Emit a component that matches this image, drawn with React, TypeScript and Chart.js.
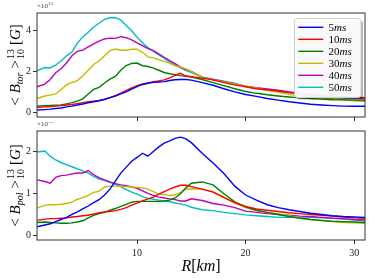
import { useEffect, useRef } from 'react';
import { Chart, registerables } from 'chart.js';
Chart.register(...registerables);

const R = [0.8, 1.5, 2, 2.5, 3, 3.5, 4, 4.5, 5, 5.5, 6, 6.5, 7, 7.5, 8, 8.5, 9, 9.5, 10, 10.5, 11, 11.5, 12, 12.5, 13, 13.5, 14, 14.5, 15, 16, 17, 18, 19, 20, 21, 22, 23, 24, 25, 26, 27, 28, 29, 30, 31];

const seriesLabels = ['5', '10', '20', '30', '40', '50'];
const seriesColors = ['#0000ff', '#ff0000', '#008000', '#bfbf00', '#bf00bf', '#00bfbf'];

// <B_tor> (x1e15 G)
const tor5 = [0.12, 0.14, 0.16, 0.19, 0.22, 0.27, 0.31, 0.36, 0.41, 0.47, 0.52, 0.57, 0.64, 0.72, 0.8, 0.9, 1.0, 1.13, 1.25, 1.36, 1.42, 1.46, 1.48, 1.5, 1.55, 1.59, 1.6, 1.6, 1.57, 1.45, 1.32, 1.15, 1.0, 0.87, 0.78, 0.68, 0.6, 0.52, 0.46, 0.4, 0.36, 0.33, 0.31, 0.3, 0.3];
const tor10 = [0.25, 0.27, 0.29, 0.31, 0.33, 0.36, 0.39, 0.43, 0.47, 0.52, 0.55, 0.58, 0.63, 0.72, 0.82, 0.94, 1.07, 1.19, 1.3, 1.38, 1.43, 1.5, 1.53, 1.58, 1.68, 1.8, 1.9, 1.77, 1.74, 1.67, 1.58, 1.45, 1.34, 1.25, 1.15, 1.1, 1.04, 0.97, 0.92, 0.87, 0.83, 0.8, 0.77, 0.74, 0.72];
const tor20 = [0.3, 0.33, 0.34, 0.35, 0.36, 0.42, 0.48, 0.55, 0.66, 0.9, 1.12, 1.22, 1.43, 1.62, 1.75, 2.05, 2.28, 2.38, 2.4, 2.27, 2.23, 2.15, 2.05, 1.94, 1.88, 1.84, 1.79, 1.76, 1.72, 1.6, 1.45, 1.3, 1.15, 1.02, 0.93, 0.86, 0.8, 0.75, 0.71, 0.68, 0.65, 0.62, 0.61, 0.6, 0.59];
const tor30 = [0.68, 0.8, 0.84, 0.9, 1.1, 1.35, 1.45, 1.55, 1.77, 2.05, 2.33, 2.5, 2.75, 3.0, 3.08, 3.02, 3.02, 3.07, 3.07, 2.92, 2.7, 2.65, 2.57, 2.48, 2.38, 2.27, 2.2, 2.12, 1.98, 1.7, 1.58, 1.48, 1.38, 1.28, 1.18, 1.08, 0.98, 0.88, 0.8, 0.75, 0.71, 0.67, 0.62, 0.57, 0.54];
const tor40 = [1.25, 1.38, 1.6, 1.93, 2.12, 2.4, 2.75, 2.97, 3.03, 3.18, 3.33, 3.46, 3.57, 3.61, 3.6, 3.68, 3.63, 3.53, 3.38, 3.25, 3.1, 3.0, 2.85, 2.68, 2.52, 2.37, 2.2, 2.08, 2.0, 1.7, 1.6, 1.5, 1.38, 1.28, 1.2, 1.14, 1.08, 1.0, 0.93, 0.86, 0.8, 0.75, 0.72, 0.7, 0.68];
const tor50 = [2.03, 2.18, 2.16, 2.3, 2.5, 2.75, 2.93, 3.37, 3.67, 3.9, 4.15, 4.33, 4.52, 4.6, 4.6, 4.48, 4.22, 3.97, 3.65, 3.38, 3.15, 2.98, 2.8, 2.62, 2.45, 2.3, 2.17, 2.05, 1.93, 1.73, 1.61, 1.52, 1.42, 1.26, 1.16, 1.08, 1.02, 0.97, 0.9, 0.84, 0.78, 0.73, 0.7, 0.68, 0.66];

// <B_pol> (x1e15 G)
const pol5 = [0.21, 0.25, 0.28, 0.33, 0.38, 0.43, 0.5, 0.56, 0.63, 0.7, 0.78, 0.85, 0.96, 1.1, 1.29, 1.48, 1.62, 1.76, 1.85, 1.95, 1.88, 1.99, 2.1, 2.19, 2.24, 2.3, 2.33, 2.29, 2.2, 1.95, 1.72, 1.47, 1.17, 0.96, 0.84, 0.73, 0.66, 0.61, 0.57, 0.53, 0.5, 0.47, 0.45, 0.44, 0.43];
const pol10 = [0.36, 0.39, 0.4, 0.4, 0.41, 0.42, 0.44, 0.45, 0.47, 0.48, 0.51, 0.54, 0.56, 0.57, 0.59, 0.62, 0.66, 0.72, 0.77, 0.82, 0.87, 0.91, 0.98, 1.04, 1.1, 1.15, 1.19, 1.19, 1.16, 1.1, 1.03, 0.9, 0.78, 0.69, 0.63, 0.6, 0.57, 0.54, 0.52, 0.5, 0.48, 0.46, 0.44, 0.42, 0.41];
const pol20 = [0.31, 0.32, 0.31, 0.3, 0.29, 0.29, 0.3, 0.32, 0.35, 0.42, 0.48, 0.52, 0.55, 0.6, 0.64, 0.69, 0.74, 0.79, 0.81, 0.81, 0.81, 0.81, 0.81, 0.82, 0.84, 0.89, 0.99, 1.13, 1.24, 1.27, 1.2, 0.99, 0.8, 0.68, 0.6, 0.55, 0.5, 0.45, 0.41, 0.38, 0.36, 0.34, 0.33, 0.32, 0.31];
const pol30 = [0.65, 0.72, 0.73, 0.73, 0.74, 0.76, 0.79, 0.86, 0.9, 0.95, 1.02, 1.05, 1.15, 1.17, 1.17, 1.17, 1.16, 1.15, 1.14, 1.13, 1.1, 1.04, 0.98, 0.97, 0.95, 0.96, 1.02, 1.1, 1.11, 1.1, 1.04, 0.91, 0.77, 0.66, 0.59, 0.55, 0.52, 0.47, 0.42, 0.38, 0.35, 0.33, 0.31, 0.3, 0.29];
const pol40 = [1.32, 1.28, 1.24, 1.38, 1.42, 1.43, 1.46, 1.48, 1.48, 1.54, 1.44, 1.37, 1.32, 1.27, 1.23, 1.2, 1.18, 1.15, 1.12, 1.06, 1.0, 0.95, 0.91, 0.89, 0.87, 0.85, 0.82, 0.82, 0.87, 0.83, 0.76, 0.72, 0.66, 0.58, 0.55, 0.52, 0.5, 0.48, 0.46, 0.45, 0.43, 0.41, 0.4, 0.38, 0.37];
const pol50 = [1.98, 2.0, 1.88, 1.79, 1.73, 1.68, 1.63, 1.58, 1.53, 1.48, 1.4, 1.34, 1.3, 1.26, 1.21, 1.16, 1.09, 1.03, 0.98, 0.92, 0.88, 0.86, 0.84, 0.82, 0.8, 0.77, 0.75, 0.72, 0.67, 0.61, 0.59, 0.55, 0.52, 0.49, 0.47, 0.45, 0.43, 0.43, 0.43, 0.43, 0.42, 0.41, 0.39, 0.37, 0.35];

const xTicks = [10, 20, 30];
const torTicks = [0, 2, 4];
const polTicks = [0, 1, 2];

const FAM = '"Liberation Serif", "DejaVu Serif", serif';
const FRAME = '#333333';

function drawYLabel(ctx: CanvasRenderingContext2D, cx: number, cy: number, sub: string) {
  const big = `15px ${FAM}`;
  const bigI = `italic 15px ${FAM}`;
  const small = `10px ${FAM}`;
  const smallI = `italic 10px ${FAM}`;
  const segs: any[] = [
    { t: '<', f: big, dy: 0 },
    { gap: 4 },
    { t: 'B', f: bigI, dy: 0 },
    { t: sub, f: smallI, dy: 3 },
    { gap: 4 },
    { t: '>', f: big, dy: 0 },
    { gap: 1 },
    { stack: ['13', '10'], f: small, up: -6, down: 4 },
    { gap: 4 },
    { t: '[', f: big, dy: 0 },
    { t: 'G', f: bigI, dy: 0 },
    { t: ']', f: big, dy: 0 },
  ];
  let total = 0;
  for (const s of segs) {
    if (s.gap) { s.w = s.gap; }
    else if (s.stack) {
      ctx.font = s.f;
      s.w = Math.max(ctx.measureText(s.stack[0]).width, ctx.measureText(s.stack[1]).width);
    } else {
      ctx.font = s.f;
      s.w = ctx.measureText(s.t).width;
    }
    total += s.w;
  }
  ctx.save();
  ctx.translate(cx, cy);
  ctx.rotate(-Math.PI / 2);
  ctx.fillStyle = '#000';
  ctx.textBaseline = 'alphabetic';
  ctx.textAlign = 'left';
  let x = -total / 2;
  for (const s of segs) {
    if (s.stack) {
      ctx.font = s.f;
      ctx.fillText(s.stack[0], x, s.up);
      ctx.fillText(s.stack[1], x, s.down);
    } else if (s.t) {
      ctx.font = s.f;
      ctx.fillText(s.t, x, s.dy);
    }
    x += s.w;
  }
  ctx.restore();
}

function drawSci(ctx: CanvasRenderingContext2D, x: number, y: number) {
  ctx.save();
  ctx.fillStyle = '#444';
  ctx.textBaseline = 'alphabetic';
  ctx.textAlign = 'left';
  ctx.font = `7px ${FAM}`;
  ctx.fillText('×10', x, y);
  const w = ctx.measureText('×10').width;
  ctx.font = `5px ${FAM}`;
  ctx.fillText('15', x + w + 0.3, y - 3);
  ctx.restore();
}

function framePlugin(sub: string, withLegend: boolean, withXTitle: boolean) {
  return {
    id: 'frame_' + sub,
    afterDatasetsDraw(chart: any) {
      const ctx = chart.ctx as CanvasRenderingContext2D;
      const a = chart.chartArea;
      ctx.save();
      ctx.strokeStyle = FRAME;
      ctx.lineWidth = 1;
      ctx.strokeRect(a.left, a.top, a.right - a.left, a.bottom - a.top);
      ctx.restore();
      drawSci(ctx, a.left, a.top - 5);
      drawYLabel(ctx, 20, (a.top + a.bottom) / 2, sub);
      if (withXTitle) {
        const cx = (a.left + a.right) / 2;
        const y = a.bottom + 31;
        const parts = [
          { t: 'R', f: `italic 16px ${FAM}` },
          { t: '[', f: `16px ${FAM}` },
          { t: 'km', f: `italic 16px ${FAM}` },
          { t: ']', f: `16px ${FAM}` },
        ];
        let tw = 0;
        const ws: number[] = [];
        for (const p of parts) { ctx.font = p.f; const w = ctx.measureText(p.t).width; ws.push(w); tw += w; }
        let x = cx - tw / 2;
        ctx.save();
        ctx.fillStyle = '#000';
        ctx.textBaseline = 'alphabetic';
        parts.forEach((p, i) => { ctx.font = p.f; ctx.fillText(p.t, x, y); x += ws[i]; });
        ctx.restore();
      }
      if (withLegend) {
        const lx = 294.5, ly = 18.5, lw = 66.5, lh = 79;
        ctx.save();
        ctx.fillStyle = 'rgba(0,0,0,0.3)';
        ctx.beginPath();
        (ctx as any).roundRect(lx + 2, ly + 2, lw, lh, 3);
        ctx.fill();
        ctx.fillStyle = 'rgba(255,255,255,0.92)';
        ctx.strokeStyle = '#cccccc';
        ctx.lineWidth = 1;
        ctx.beginPath();
        (ctx as any).roundRect(lx, ly, lw, lh, 3);
        ctx.fill();
        ctx.stroke();
        seriesLabels.forEach((lab, i) => {
          const y = 27.3 + 12 * i;
          ctx.strokeStyle = seriesColors[i];
          ctx.lineWidth = 1.4;
          ctx.beginPath();
          ctx.moveTo(298.3, y);
          ctx.lineTo(323.3, y);
          ctx.stroke();
          ctx.fillStyle = '#000';
          ctx.textBaseline = 'middle';
          ctx.font = `11px ${FAM}`;
          const nw = ctx.measureText(lab).width;
          ctx.fillText(lab, 328.5, y + 0.5);
          ctx.font = `italic 11px ${FAM}`;
          ctx.fillText('ms', 328.5 + nw, y + 0.5);
        });
        ctx.restore();
      }
    },
  };
}

function makeDatasets(series: number[][]) {
  return series.map((vals, i) => ({
    label: seriesLabels[i] + 'ms',
    data: vals.map((v, j) => ({ x: R[j], y: v })),
    borderColor: seriesColors[i],
    backgroundColor: seriesColors[i],
    borderWidth: 1.4,
    pointRadius: 0,
    tension: 0,
    fill: false,
  }));
}

function axisX(showLabels: boolean, height: number) {
  return {
    type: 'linear' as const,
    min: 0.78,
    max: 31,
    afterBuildTicks: (ax: any) => { ax.ticks = xTicks.map((v) => ({ value: v })); },
    afterFit: (s: any) => { s.height = height; },
    ticks: {
      display: showLabels,
      color: '#222',
      padding: 3,
      font: { family: FAM, size: 10 },
      maxRotation: 0,
    },
    grid: { display: true, drawOnChartArea: false, drawTicks: true, tickLength: 4, tickColor: FRAME, color: FRAME },
    border: { display: false },
  };
}

function axisY(min: number, max: number, ticks: number[]) {
  return {
    type: 'linear' as const,
    min,
    max,
    afterBuildTicks: (ax: any) => { ax.ticks = ticks.map((v) => ({ value: v })); },
    afterFit: (s: any) => { s.width = 37; },
    ticks: {
      color: '#222',
      padding: 2,
      font: { family: FAM, size: 10 },
    },
    grid: { display: true, drawOnChartArea: false, drawTicks: true, tickLength: 4, tickColor: FRAME, color: FRAME },
    border: { display: false },
  };
}

export default function App() {
  const topRef = useRef<HTMLCanvasElement>(null);
  const botRef = useRef<HTMLCanvasElement>(null);

  useEffect(() => {
    const c1 = new Chart(topRef.current!, {
      type: 'line',
      data: { datasets: makeDatasets([tor5, tor10, tor20, tor30, tor40, tor50]) as any },
      options: {
        responsive: false,
        animation: false,
        layout: { padding: { top: 13, right: 9, bottom: 0, left: 0 } },
        plugins: { legend: { display: false }, tooltip: { enabled: false } },
        scales: { x: axisX(false, 5) as any, y: axisY(-0.22, 4.83, torTicks) as any },
      },
      plugins: [framePlugin('tor', true, false)],
    });
    const c2 = new Chart(botRef.current!, {
      type: 'line',
      data: { datasets: makeDatasets([pol5, pol10, pol20, pol30, pol40, pol50]) as any },
      options: {
        responsive: false,
        animation: false,
        layout: { padding: { top: 9, right: 9, bottom: 0, left: 0 } },
        plugins: { legend: { display: false }, tooltip: { enabled: false } },
        scales: { x: axisX(true, 40) as any, y: axisY(-0.105, 2.476, polTicks) as any },
      },
      plugins: [framePlugin('pol', false, true)],
    });
    return () => { c1.destroy(); c2.destroy(); };
  }, []);

  return (
    <div style={{ position: 'fixed', left: 0, top: 0, width: 374, height: 280, background: '#fff' }}>
      <canvas ref={topRef} width={374} height={125} style={{ position: 'absolute', left: 0, top: 0 }} />
      <canvas ref={botRef} width={374} height={158} style={{ position: 'absolute', left: 0, top: 122 }} />
    </div>
  );
}
